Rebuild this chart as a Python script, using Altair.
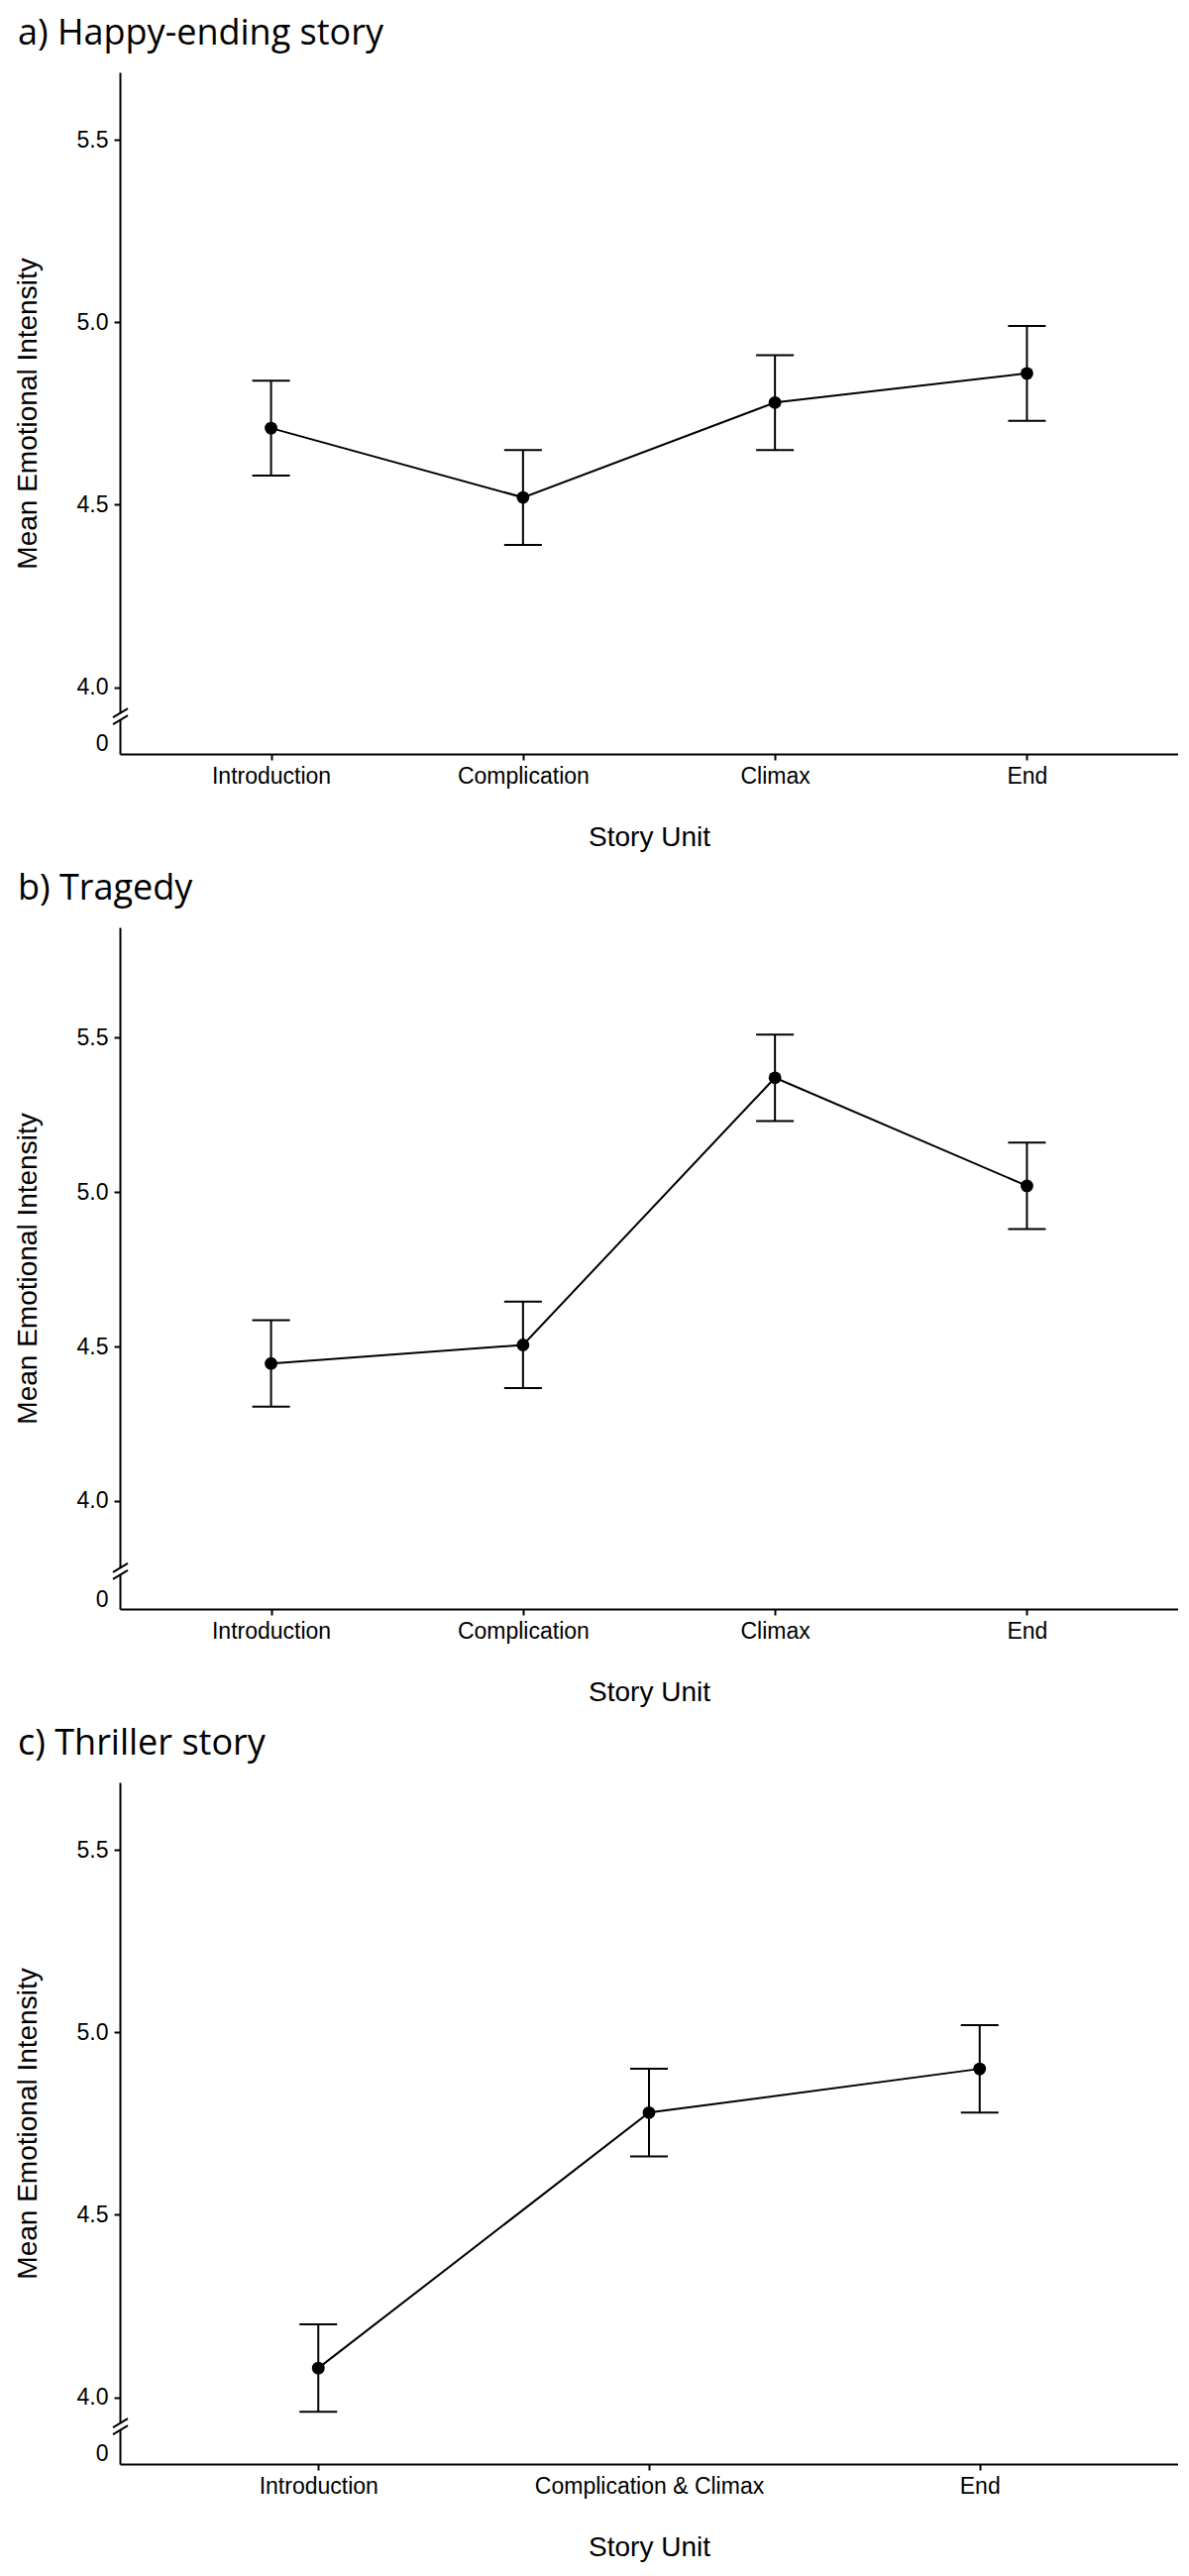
import altair as alt
import pandas as pd

# ---------------- data ----------------
units_a = ["Introduction", "Complication", "Climax", "End"]
mean_a = [4.71, 4.52, 4.78, 4.86]
lo_a = [4.58, 4.39, 4.65, 4.73]
hi_a = [4.84, 4.65, 4.91, 4.99]

units_b = ["Introduction", "Complication", "Climax", "End"]
mean_b = [4.445, 4.505, 5.37, 5.02]
lo_b = [4.305, 4.365, 5.23, 4.88]
hi_b = [4.585, 4.645, 5.51, 5.16]

units_c = ["Introduction", "Complication & Climax", "End"]
mean_c = [4.08, 4.78, 4.90]
lo_c = [3.96, 4.66, 4.78]
hi_c = [4.20, 4.90, 5.02]

titles = ["a) Happy-ending story", "b) Tragedy", "c) Thriller story"]

# broken y axis: the lowest tick stands for "0"
domain_ac = [3.817, 5.685]
domain_b = [3.650, 5.857]
ticks_ac = [3.845, 4.0, 4.5, 5.0, 5.5]
ticks_b = [3.682, 4.0, 4.5, 5.0, 5.5]
break_ac = 3.92
break_b = 3.772

W = 1068
H = 688
YT = "Mean Emotional Intensity"
XT = "Story Unit"


def panel(title, units, means, los, his, y_domain, y_ticks, brk):
    df = pd.DataFrame({"unit": units, "mean": means, "lo": los, "hi": his})
    xs = alt.Scale(type="point", padding=0.6)
    xax = alt.Axis(labelAngle=0, labelPadding=5, titlePadding=36, tickSize=6, labelLimit=500)
    x = alt.X("unit:N", sort=units, scale=xs, axis=xax, title=XT)
    ys = alt.Scale(domain=y_domain, nice=False, zero=False)
    yax = alt.Axis(
        values=y_ticks,
        labelExpr="datum.value < 3.9 ? '0' : format(datum.value, '.1f')",
        tickOpacity=alt.condition("datum.value < 3.9", alt.value(0), alt.value(1)),
        labelPadding=6,
        titlePadding=35,
        tickSize=6,
    )
    base = alt.Chart(df)
    line = base.mark_line(color="black", strokeWidth=2).encode(
        x=x, y=alt.Y("mean:Q", scale=ys, axis=yax, title=YT)
    )
    bars = base.mark_rule(color="black", strokeWidth=2).encode(
        x=x, y=alt.Y("lo:Q", title=YT), y2="hi:Q"
    )
    cap_lo = base.mark_tick(color="black", size=38, thickness=2, opacity=1).encode(
        x=x, y=alt.Y("lo:Q", title=YT)
    )
    cap_hi = base.mark_tick(color="black", size=38, thickness=2, opacity=1).encode(
        x=x, y=alt.Y("hi:Q", title=YT)
    )
    pts = base.mark_point(filled=True, color="black", size=165, opacity=1).encode(
        x=x, y=alt.Y("mean:Q", title=YT)
    )
    bdf = pd.DataFrame({"b": [brk]})
    bb = alt.Chart(bdf)
    gap = bb.mark_rect(color="white", yOffset=-3, y2Offset=3).encode(
        x=alt.value(-3), x2=alt.value(3), y=alt.Y("b:Q", title=YT), y2="b:Q"
    )
    s1 = bb.mark_rule(color="black", strokeWidth=2, yOffset=1, y2Offset=-8).encode(
        x=alt.value(-7), x2=alt.value(8), y=alt.Y("b:Q", title=YT), y2="b:Q"
    )
    s2 = bb.mark_rule(color="black", strokeWidth=2, yOffset=8, y2Offset=-1).encode(
        x=alt.value(-7), x2=alt.value(8), y=alt.Y("b:Q", title=YT), y2="b:Q"
    )
    return alt.layer(line, bars, cap_lo, cap_hi, pts, gap, s1, s2).properties(
        width=W,
        height=H,
        title=alt.TitleParams(title, anchor="start", frame="bounds", dx=4, offset=20),
    )


pa = panel(titles[0], units_a, mean_a, lo_a, hi_a, domain_ac, ticks_ac, break_ac)
pb = panel(titles[1], units_b, mean_b, lo_b, hi_b, domain_b, ticks_b, break_b)
pc = panel(titles[2], units_c, mean_c, lo_c, hi_c, domain_ac, ticks_ac, break_ac)

chart = (
    alt.vconcat(pa, pb, pc, spacing=20)
    .properties(padding={"top": 8, "left": 6, "right": 0, "bottom": 2}, background="white")
    .configure_view(stroke=None)
    .configure_axis(
        grid=False,
        domainColor="black",
        domainWidth=2,
        tickColor="black",
        tickWidth=2,
        labelColor="black",
        titleColor="black",
        labelFont="Liberation Sans",
        titleFont="Liberation Sans",
        labelFontSize=23,
        titleFontSize=28,
        titleFontWeight="normal",
    )
    .configure_title(font="Open Sans", fontSize=36, fontWeight="normal", color="black")
)

chart.save("out.html", embed_options={"renderer": "svg", "actions": False})
